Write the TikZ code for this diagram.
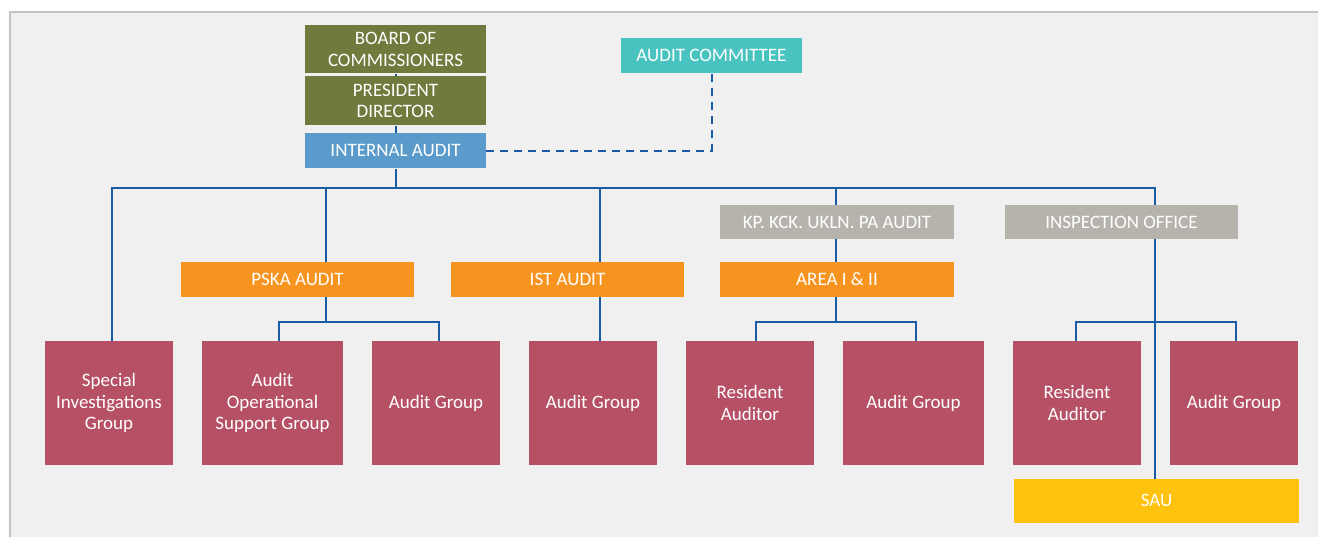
\documentclass[tikz,border=0pt]{standalone}
\usepackage{fontspec}
\setmainfont{Carlito}
\definecolor{bgfill}{HTML}{EFF0EF}
\definecolor{framegray}{HTML}{C3C3C3}
\definecolor{linkblue}{HTML}{1A5BA6}
\definecolor{olive}{HTML}{6E7B3D}
\definecolor{iablue}{HTML}{5A9BCB}
\definecolor{teal}{HTML}{48C3BF}
\definecolor{stone}{HTML}{B5B3AB}
\definecolor{amber}{HTML}{F7931F}
\definecolor{berry}{HTML}{B65165}
\definecolor{gold}{HTML}{FFC20E}
\begin{document}
\begin{tikzpicture}[x=1pt,y=-1pt,
  box/.style={rectangle, inner sep=0pt, text=white, align=center,
    font=\fontsize{19}{21.5}\selectfont},
  unit/.style={box, fill=berry, minimum height=124pt},
  link/.style={linkblue, line width=2pt},
  dotlink/.style={linkblue, line width=2pt, dash pattern=on 8pt off 6pt}]

\useasboundingbox (0,0) rectangle (1318,537);

% Background
\fill[bgfill] (10,12) rectangle (1318,537);
\draw[framegray, line width=1.5pt] (10,537) -- (10,12) -- (1318,12);

% Top
\node[box, fill=olive, minimum width=181pt, minimum height=48.5pt] (board) at (395.5,49.25) {BOARD OF\\COMMISSIONERS};
\node[box, fill=olive, minimum width=181pt, minimum height=49.5pt] (pres) at (395.5,100.75) {PRESIDENT\\DIRECTOR};
\node[box, fill=iablue, minimum width=181pt, minimum height=35.5pt] (ia) at (395.5,150.75) {INTERNAL AUDIT};
\node[box, fill=teal, minimum width=181pt, minimum height=35.5pt] (ac) at (711.5,55.75) {AUDIT COMMITTEE};

% Middle
\node[box, fill=stone, minimum width=234pt, minimum height=34.5pt] (kp) at (837,222) {KP. KCK. UKLN. PA AUDIT};
\node[box, fill=stone, minimum width=233pt, minimum height=34.5pt] (insp) at (1121.5,222) {INSPECTION OFFICE};
\node[box, fill=amber, minimum width=233pt, minimum height=35pt] (pska) at (297.5,279.5) {PSKA AUDIT};
\node[box, fill=amber, minimum width=233pt, minimum height=35pt] (ist) at (567.5,279.5) {IST AUDIT};
\node[box, fill=amber, minimum width=234pt, minimum height=35pt] (area) at (837,279.5) {AREA I \& II};

% Bottom
\node[unit, minimum width=128pt] (spec) at (109,403) {Special\\Investigations\\Group};
\node[unit, minimum width=141pt] (aos) at (272.5,403) {Audit\\Operational\\Support Group};
\node[unit, minimum width=128pt] (ag1) at (436,403) {Audit Group};
\node[unit, minimum width=128pt] (ag2) at (593,403) {Audit Group};
\node[unit, minimum width=128pt] (ra1) at (750,403) {Resident\\Auditor};
\node[unit, minimum width=141pt] (ag3) at (913.5,403) {Audit Group};
\node[unit, minimum width=128pt] (ra2) at (1077,403) {Resident\\Auditor};
\node[unit, minimum width=128pt] (ag4) at (1234,403) {Audit Group};
\node[box, fill=gold, minimum width=285pt, minimum height=43.5pt] (sau) at (1156.5,500.75) {SAU};

% Junctions
\coordinate (busL) at (112,188);
\coordinate (busR) at (1155,188);
\coordinate (jPska) at (326,188);
\coordinate (jIst) at (600,188);
\coordinate (jKp) at (836,188);
\coordinate (subA) at (326,322);
\coordinate (subB) at (836,322);
\coordinate (subC) at (1155,322);

% Links
\draw[link] (board.south) -- (pres.north);
\draw[link] (pres.south) -- (ia.north);
\draw[link] (ia.south) -- (ia.south |- busL);
\draw[link] (spec.north -| busL) -- (busL) -- (busR) -- (busR |- insp.north);
\draw[dotlink] (ia.east) -| (ac.south);

\draw[link] (jPska) -- (jPska |- pska.north);
\draw[link] (jPska |- pska.south) -- (subA);
\draw[link] ([xshift=6.5pt]aos.north) |- (subA) -| ([xshift=3pt]ag1.north);

\draw[link] (jIst) -- (jIst |- ist.north);
\draw[link] (jIst |- ist.south) -- (jIst |- ag2.north);

\draw[link] (jKp) -- (jKp |- kp.north);
\draw[link] (jKp |- kp.south) -- (jKp |- area.north);
\draw[link] (jKp |- area.south) -- (subB);
\draw[link] ([xshift=6pt]ra1.north) |- (subB) -| ([xshift=2.5pt]ag3.north);

\draw[link] (busR |- insp.south) -- (busR |- sau.north);
\draw[link] ([xshift=-1pt]ra2.north) |- (subC) -| ([xshift=2pt]ag4.north);

\end{tikzpicture}
\end{document}
